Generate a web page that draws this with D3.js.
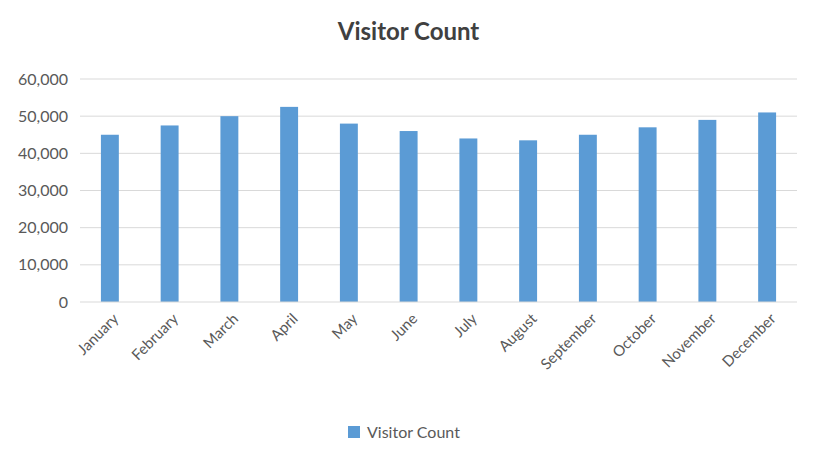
<!DOCTYPE html>
<html><head><meta charset="utf-8">
<script src="https://cdn.jsdelivr.net/npm/d3@7"></script>
<style>body{margin:0;background:#fff;font-family:Lato,"Open Sans",sans-serif;}</style>
</head><body><svg id="chart" width="817" height="455"></svg>
<script>
const months = ["January","February","March","April","May","June","July","August","September","October","November","December"];
const visitors = [45000,47500,50000,52500,48000,46000,44000,43500,45000,47000,49000,51000];
const yTicks = [0,10000,20000,30000,40000,50000,60000];

const svg = d3.select("#chart");
const margin = {left: 80, right: 20, top: 79, bottom: 153};
const W = 817, H = 455;

const x = d3.scaleBand().domain(months).range([margin.left, W - margin.right]).paddingInner(0.7).paddingOuter(0.35);
const y = d3.scaleLinear().domain([0, 60000]).range([H - margin.bottom, margin.top]);

svg.append("text").attr("x", W/2).attr("y", 40).attr("text-anchor","middle")
  .attr("font-size", 24).attr("font-weight","bold").attr("fill","#404040").text("Visitor Count");

// grid
svg.append("g").selectAll("line").data(yTicks.slice(1)).join("line")
  .attr("x1", margin.left).attr("x2", W - margin.right)
  .attr("y1", d => y(d)).attr("y2", d => y(d))
  .attr("stroke","#d9d9d9");

svg.append("g").selectAll("text").data(yTicks).join("text")
  .attr("x", 68).attr("y", d => y(d)).attr("dy","0.35em").attr("text-anchor","end")
  .attr("font-size", 16).attr("fill","#595959").text(d3.format(","));

svg.append("g").selectAll("rect").data(visitors).join("rect")
  .attr("x", (d,i) => x(months[i])).attr("width", x.bandwidth())
  .attr("y", d => y(d)).attr("height", d => y(0) - y(d))
  .attr("fill","#5b9bd5");

svg.append("line").attr("x1", margin.left).attr("x2", W - margin.right)
  .attr("y1", y(0)).attr("y2", y(0)).attr("stroke","#d9d9d9");

svg.append("g").selectAll("text").data(months).join("text")
  .attr("transform", d => `translate(${x(d) + x.bandwidth()/2 + 6},${y(0) + 14}) rotate(-45)`)
  .attr("text-anchor","end").attr("dy","0.35em")
  .attr("font-size", 15).attr("fill","#595959").text(d => d);

const lg = svg.append("g").attr("transform","translate(348,432)");
lg.append("rect").attr("x",0).attr("y",-6).attr("width",12).attr("height",12).attr("fill","#5b9bd5");
lg.append("text").attr("x",19).attr("y",0).attr("dy","0.35em").attr("font-size",16).attr("fill","#595959").text("Visitor Count");
</script></body></html>
